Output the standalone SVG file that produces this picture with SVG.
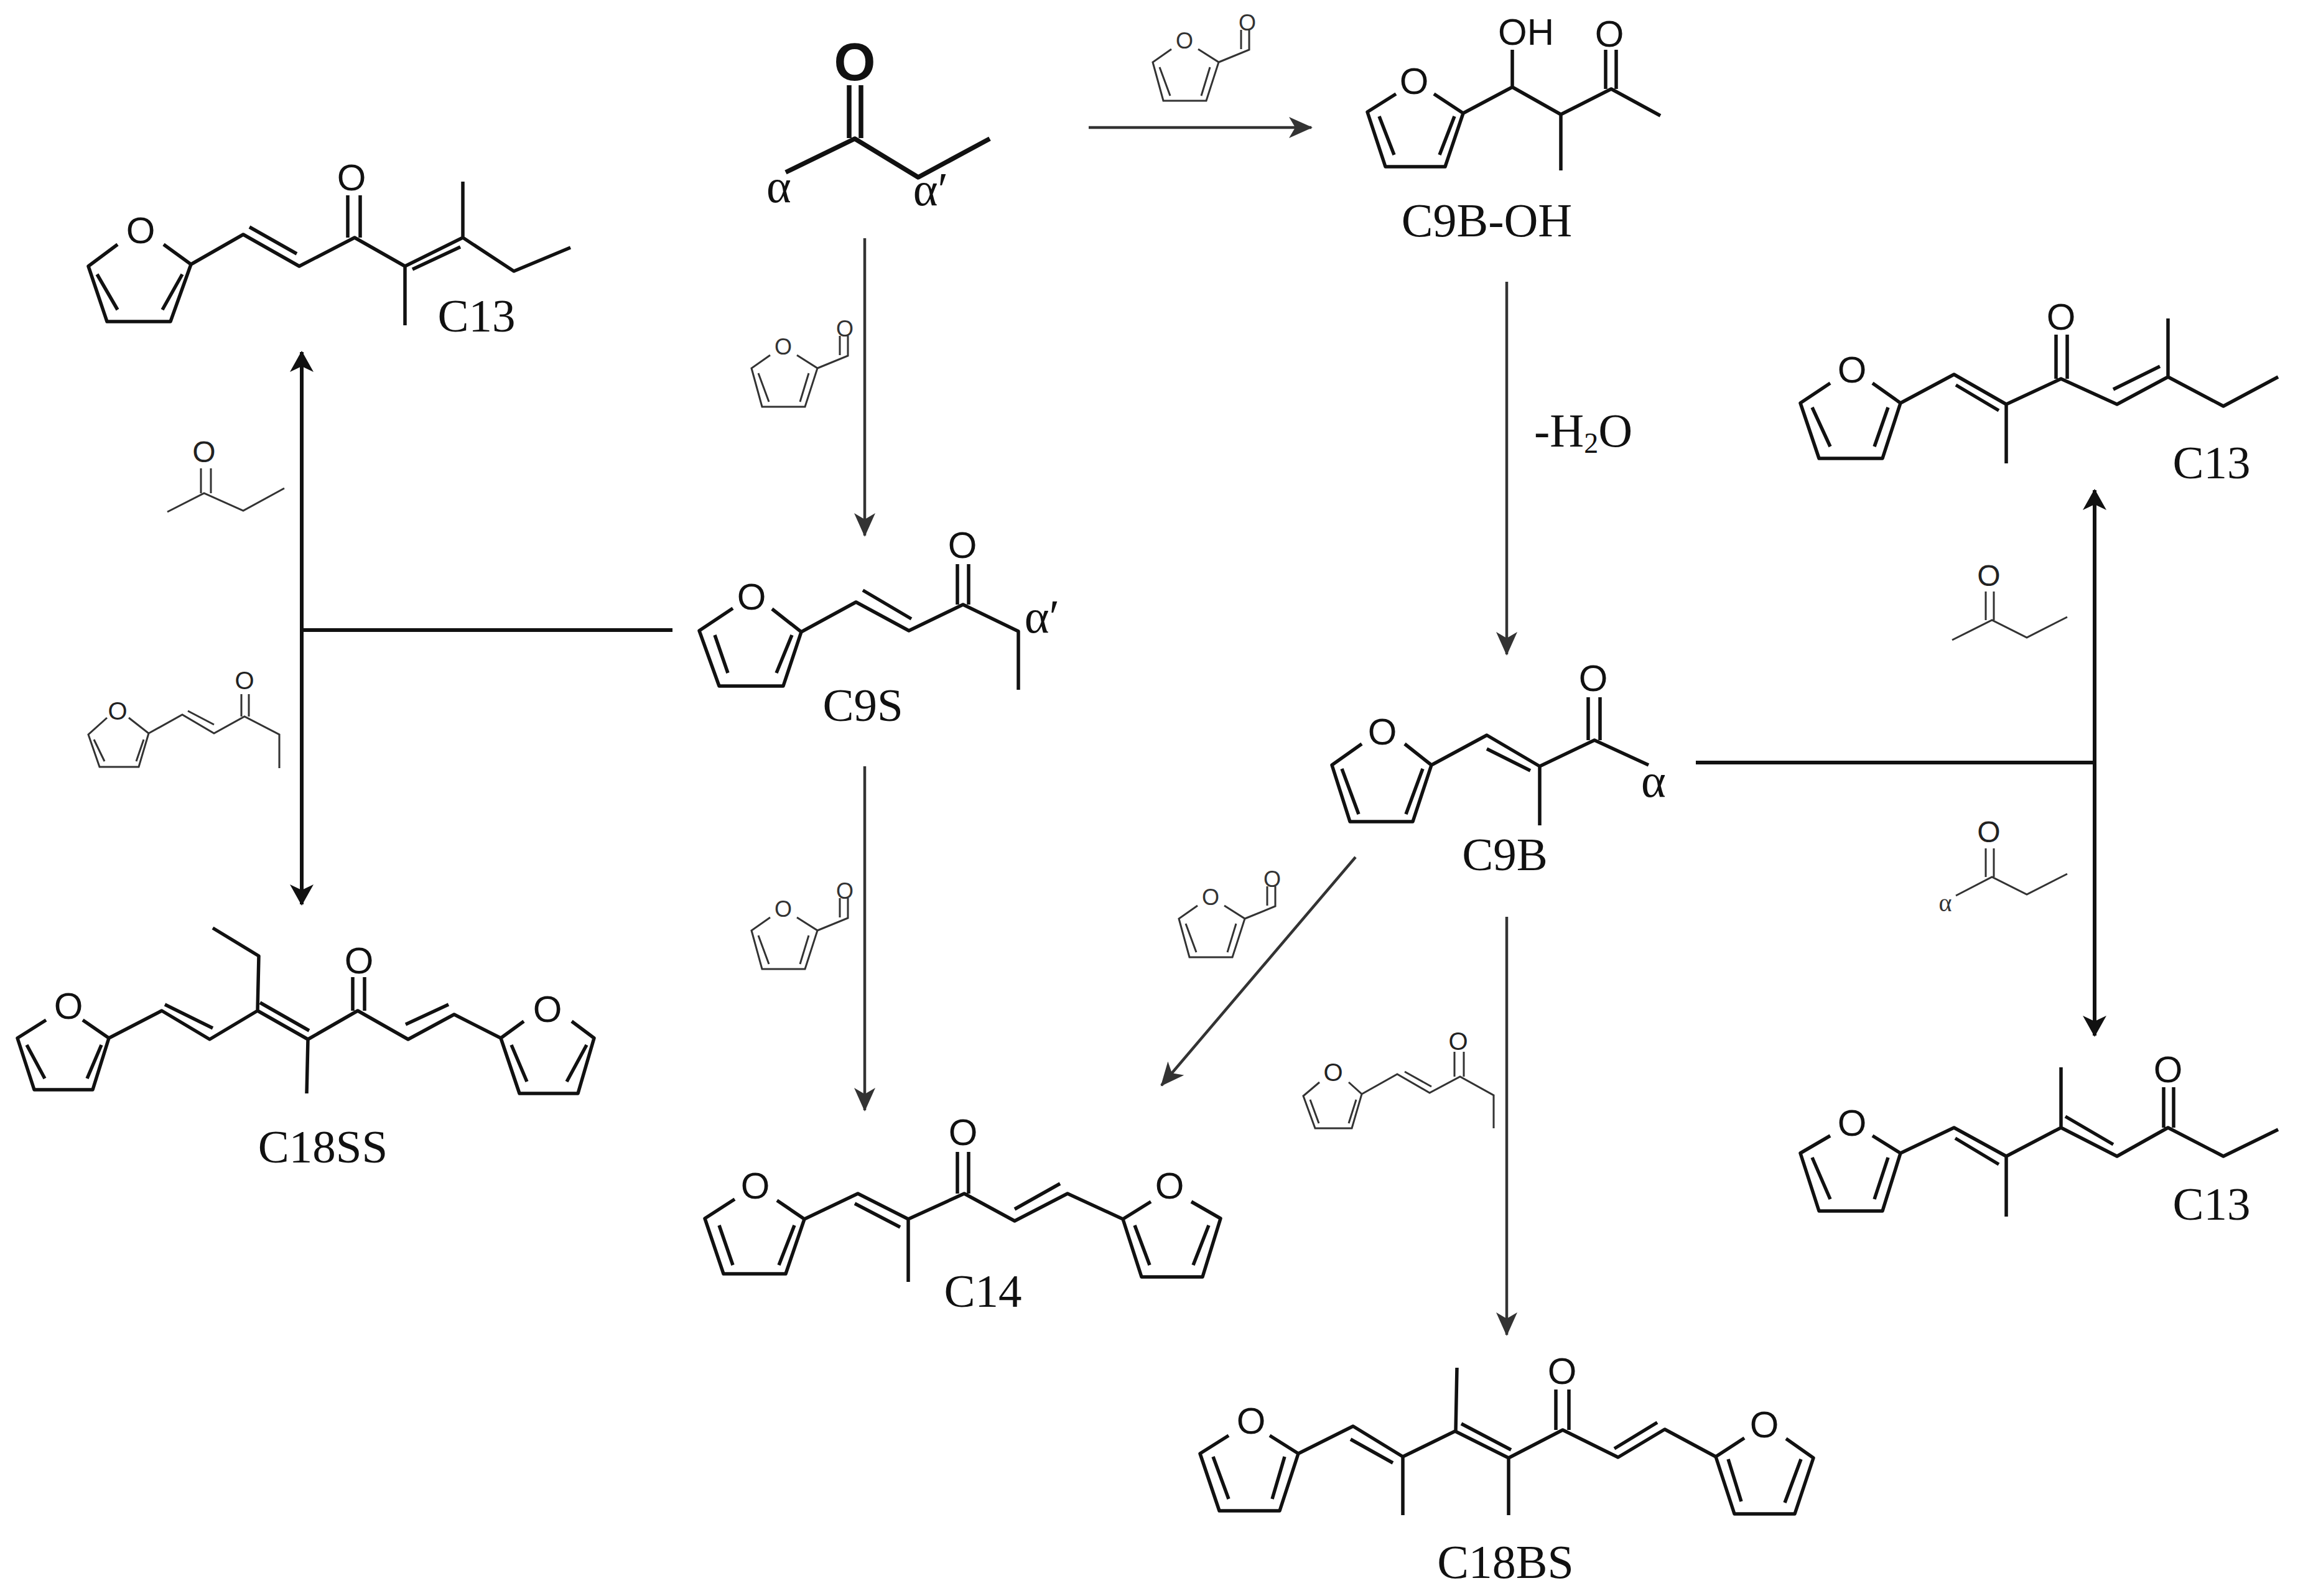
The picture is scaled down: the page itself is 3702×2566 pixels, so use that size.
<svg xmlns="http://www.w3.org/2000/svg" width="3702" height="2566" viewBox="0 0 3702 2566">
<style>
.b{fill:none;stroke:#111;stroke-width:5.5;stroke-linejoin:round}
.r{fill:none;stroke:#333;stroke-width:3}
.a{fill:none;stroke:#333;stroke-width:4.5}
.d{fill:none;stroke:#111;stroke-width:6}
.l{font-family:"Liberation Serif",serif;font-size:75px;fill:#111;text-anchor:middle}
.g{font-family:"Liberation Serif",serif;font-size:76px;fill:#111;text-anchor:middle}
.o{font-family:"Liberation Sans",sans-serif;font-size:60px;fill:#111;text-anchor:middle}
.s{font-family:"Liberation Sans",sans-serif;font-size:36px;fill:#333;text-anchor:middle}
.m{font-family:"Liberation Sans",sans-serif;font-size:40px;fill:#222;text-anchor:middle}
</style>
<defs>
<marker id="thin" markerUnits="userSpaceOnUse" markerWidth="40" markerHeight="34" refX="36" refY="17" orient="auto"><path d="M38,17 L0,0 L10,17 L0,34 Z" fill="#333"/></marker>
<marker id="thick" markerUnits="userSpaceOnUse" markerWidth="36" markerHeight="38" refX="32" refY="19" orient="auto-start-reverse"><path d="M34,19 L0,0 L9,19 L0,38 Z" fill="#111"/></marker>
<g id="furfural"><path class="r" d="M-21,14 L-51,35 L-34,97 L35,97 L55,35 L22,14 M-40,43 L-23,89 M41,43 L27,89 M55,35 L104,15 L104,-17 M91,-17 L91,14"/></g>
</defs>

<g id="connectors">
<path class="a" marker-end="url(#thin)" d="M1750,205 L2108,205"/>
<path class="a" marker-end="url(#thin)" d="M1390,383 L1390,861"/>
<path class="a" marker-end="url(#thin)" d="M2422,453 L2422,1052"/>
<path class="a" marker-end="url(#thin)" d="M1390,1232 L1390,1785"/>
<path class="a" marker-end="url(#thin)" d="M2179,1378 L1867,1745"/>
<path class="a" marker-end="url(#thin)" d="M2422,1474 L2422,2146"/>
<path class="d" marker-start="url(#thick)" marker-end="url(#thick)" d="M485,566 L485,1454"/>
<path class="d" d="M485,1013 L1081,1013"/>
<path class="d" marker-start="url(#thick)" marker-end="url(#thick)" d="M3367,788 L3367,1665"/>
<path class="d" d="M2726,1226 L3367,1226"/>
</g>

<g id="butanone">
<path style="fill:none;stroke:#111;stroke-width:7.5;stroke-linejoin:round" d="M1263,277 L1374,223 L1476,285 L1591,223 M1365,137 L1365,222 M1384,137 L1384,222"/>
<text x="1374" y="129" font-family="Liberation Sans, sans-serif" font-size="86" font-weight="bold" text-anchor="middle" fill="#111">O</text>
<text class="g" x="1252" y="325">α</text>
<text class="g" x="1496" y="330">α′</text>
</g>

<g id="reagent-furfural-1"><use href="#furfural" x="1904" y="65"/><text class="s" x="1904" y="78">O</text><text class="s" x="2005" y="49">O</text></g>
<g id="reagent-furfural-2"><use href="#furfural" x="1259" y="557"/><text class="s" x="1259" y="570">O</text><text class="s" x="1358" y="541">O</text></g>
<g id="reagent-furfural-3"><use href="#furfural" x="1259" y="1461"/><text class="s" x="1259" y="1474">O</text><text class="s" x="1358" y="1445">O</text></g>
<g id="reagent-furfural-4"><use href="#furfural" x="1946" y="1442"/><text class="s" x="1946" y="1455">O</text><text class="s" x="2045" y="1426">O</text></g>

<g id="C9B-OH">
<path class="b" d="M2244,151 L2198,180 L2227,268 L2323,268 L2352,182 L2305,151 M2217,187 L2241,249 M2338,187 L2314,249 M2352,182 L2431,140 L2509,184 L2590,143 L2669,186 M2431,140 L2431,80 M2509,184 L2509,274 M2581,143 L2581,80 M2598,143 L2598,80"/>
<text class="o" x="2273" y="151">O</text>
<text class="o" x="2453" y="72">OH</text>
<text class="o" x="2587" y="75">O</text>
<text class="g" x="2390" y="380">C9B-OH</text>
</g>

<g id="H2O-label"><text class="g" x="2466" y="718" style="text-anchor:start">-H<tspan dy="10" font-size="46">2</tspan><tspan dy="-10">O</tspan></text></g>

<g id="C9S">
<path class="b" d="M1178,978 L1124,1014 L1156,1103 L1259,1103 L1288,1016 L1241,979 M1149,1021 L1170,1082 M1273,1021 L1248,1082 M1288,1016 L1376,968 L1461,1014 L1548,972 L1637,1015 L1637,1109 M1387,949 L1465,995 M1539,972 L1539,907 M1557,972 L1557,907"/>
<text class="o" x="1208" y="980">O</text>
<text class="o" x="1547" y="897">O</text>
<text class="g" x="1675" y="1017">α′</text>
<text class="l" x="1387" y="1159">C9S</text>
</g>

<g id="C9B">
<path class="b" d="M2189,1196 L2141,1230 L2170,1321 L2271,1321 L2301,1230 L2258,1196 M2157,1236 L2184,1309 M2287,1236 L2260,1309 M2301,1230 L2390,1182 L2475,1232 L2563,1190 L2650,1230 M2390,1204 L2460,1239 M2475,1232 L2475,1327 M2553,1190 L2553,1121 M2572,1190 L2572,1121"/>
<text class="o" x="2222" y="1197">O</text>
<text class="o" x="2561" y="1111">O</text>
<text class="g" x="2658" y="1281">α</text>
<text class="l" x="2419" y="1399">C9B</text>
</g>

<g id="C14">
<path class="b" d="M1181,1928 L1133,1959 L1163,2048 L1263,2048 L1293,1960 L1249,1930 M1156,1970 L1178,2034 M1277,1970 L1252,2034 M1293,1960 L1379,1919 L1460,1960 L1550,1919 L1631,1963 L1716,1919 L1805,1960 L1850,1932 M1915,1932 L1962,1959 L1933,2053 L1835,2053 L1805,1960 M1824,1970 L1848,2034 M1943,1970 L1918,2034 M1460,1960 L1460,2061 M1374,1935 L1447,1973 M1631,1944 L1704,1903 M1539,1919 L1539,1852 M1557,1919 L1557,1852"/>
<text class="o" x="1214" y="1927">O</text>
<text class="o" x="1880" y="1927">O</text>
<text class="o" x="1548" y="1841">O</text>
<text class="l" x="1580" y="2101">C14</text>
</g>

<g id="reagent-enone-right">
<path class="r" d="M2121,1740 L2095,1762 L2114,1814 L2173,1814 L2189,1759 L2168,1740 M2106,1768 L2120,1806 M2180,1768 L2168,1806 M2189,1759 L2246,1727 L2298,1757 L2347,1731 L2401,1761 L2401,1814 M2258,1723 L2301,1747 M2338,1731 L2338,1691 M2353,1731 L2353,1691"/>
<text class="m" x="2143" y="1738">O</text>
<text class="m" x="2344" y="1688">O</text>
</g>

<g id="C18BS">
<path class="b" d="M1975,2308 L1929,2337 L1960,2429 L2057,2429 L2087,2337 L2041,2308 M1950,2342 L1975,2410 M2065,2342 L2045,2410 M2087,2337 L2175,2293 L2255,2342 L2339,2301 L2425,2344 L2512,2299 L2601,2343 L2676,2298 L2758,2342 L2804,2312 M2871,2313 L2915,2344 L2885,2434 L2788,2434 L2758,2342 M2778,2346 L2799,2414 M2895,2346 L2869,2416 M2255,2342 L2255,2436 M2425,2344 L2425,2436 M2340,2301 L2342,2199 M2171,2314 L2239,2352 M2349,2289 L2429,2331 M2595,2329 L2664,2287 M2501,2299 L2501,2234 M2522,2299 L2522,2234"/>
<text class="o" x="2011" y="2305">O</text>
<text class="o" x="2836" y="2311">O</text>
<text class="o" x="2511" y="2225">O</text>
<text class="g" x="2420" y="2537">C18BS</text>
</g>

<g id="C13-top-right">
<path class="b" d="M2942,616 L2894,648 L2924,737 L3026,737 L3055,648 L3010,616 M2913,655 L2942,718 M3035,655 L3013,718 M3055,648 L3141,602 L3225,650 L3313,609 L3403,650 L3485,606 L3574,653 L3662,606 M3225,650 L3225,745 M3485,606 L3485,512 M3144,619 L3213,660 M3397,626 L3472,589 M3305,609 L3305,538 M3323,609 L3323,538"/>
<text class="o" x="2977" y="615">O</text>
<text class="o" x="3313" y="530">O</text>
<text class="l" x="3555" y="769">C13</text>
</g>

<g id="reagent-butanone-right-1">
<path class="r" d="M3138,1029 L3202,997 L3258,1025 L3323,992 M3192,997 L3192,951 M3205,997 L3205,951"/>
<text class="m" x="3197" y="942" font-size="48" style="font-size:48px">O</text>
</g>
<g id="reagent-butanone-right-2">
<path class="r" d="M3144,1440 L3202,1410 L3258,1438 L3323,1405 M3192,1410 L3192,1364 M3205,1410 L3205,1364"/>
<text class="m" x="3197" y="1354" style="font-size:48px">O</text>
<text x="3127" y="1465" font-family="Liberation Serif, serif" font-size="40" text-anchor="middle" fill="#333">α</text>
</g>

<g id="C13-bottom-right">
<path class="b" d="M2942,1826 L2894,1854 L2924,1947 L3026,1947 L3055,1854 L3010,1826 M2913,1861 L2942,1928 M3035,1861 L3013,1928 M3055,1854 L3141,1813 L3225,1859 L3313,1813 L3403,1859 L3485,1813 L3574,1859 L3662,1816 M3225,1859 L3225,1956 M3313,1813 L3313,1716 M3143,1830 L3213,1872 M3320,1795 L3397,1840 M3478,1813 L3478,1748 M3494,1813 L3494,1748"/>
<text class="o" x="2977" y="1826">O</text>
<text class="o" x="3485" y="1740">O</text>
<text class="l" x="3555" y="1961">C13</text>
</g>

<g id="C13-left">
<path class="b" d="M189,393 L142,428 L172,517 L274,517 L307,425 L263,393 M156,441 L189,498 M293,441 L261,498 M307,425 L391,377 L481,428 L570,382 L651,428 L744,382 L826,436 L917,398 M651,428 L651,523 M744,382 L744,292 M401,365 L477,408 M663,433 L740,397 M559,382 L559,314 M579,382 L579,314"/>
<text class="o" x="226" y="391">O</text>
<text class="o" x="565" y="306">O</text>
<text class="l" x="766" y="533">C13</text>
</g>

<g id="reagent-butanone-left">
<path class="r" d="M269,823 L328,793 L391,821 L457,785 M323,793 L323,753 M339,793 L339,753"/>
<text class="m" x="328" y="743" style="font-size:48px">O</text>
</g>

<g id="reagent-enone-left">
<path class="r" d="M172,1154 L142,1181 L160,1233 L223,1233 L239,1179 L207,1154 M151,1189 L168,1224 M231,1189 L219,1224 M239,1179 L293,1149 L344,1179 L393,1152 L449,1181 L449,1235 M302,1143 L344,1165 M388,1152 L388,1116 M400,1152 L400,1116"/>
<text class="m" x="189" y="1157">O</text>
<text class="m" x="393" y="1108">O</text>
</g>

<g id="C18SS">
<path class="b" d="M74,1640 L28,1669 L55,1752 L149,1752 L175,1669 L133,1640 M43,1680 L72,1734 M163,1680 L140,1734 M175,1669 L260,1625 L337,1671 L414,1625 L495,1671 L575,1625 L656,1671 L730,1631 L805,1669 L842,1642 M919,1642 L955,1669 L929,1758 L835,1758 L805,1669 M822,1680 L847,1739 M943,1680 L911,1739 M414,1625 L416,1537 L342,1492 M495,1671 L493,1758 M265,1615 L342,1653 M418,1612 L497,1657 M652,1647 L721,1615 M567,1625 L567,1571 M586,1625 L586,1571"/>
<text class="o" x="110" y="1638">O</text>
<text class="o" x="880" y="1643">O</text>
<text class="o" x="577" y="1565">O</text>
<text class="l" x="519" y="1869">C18SS</text>
</g>
</svg>
